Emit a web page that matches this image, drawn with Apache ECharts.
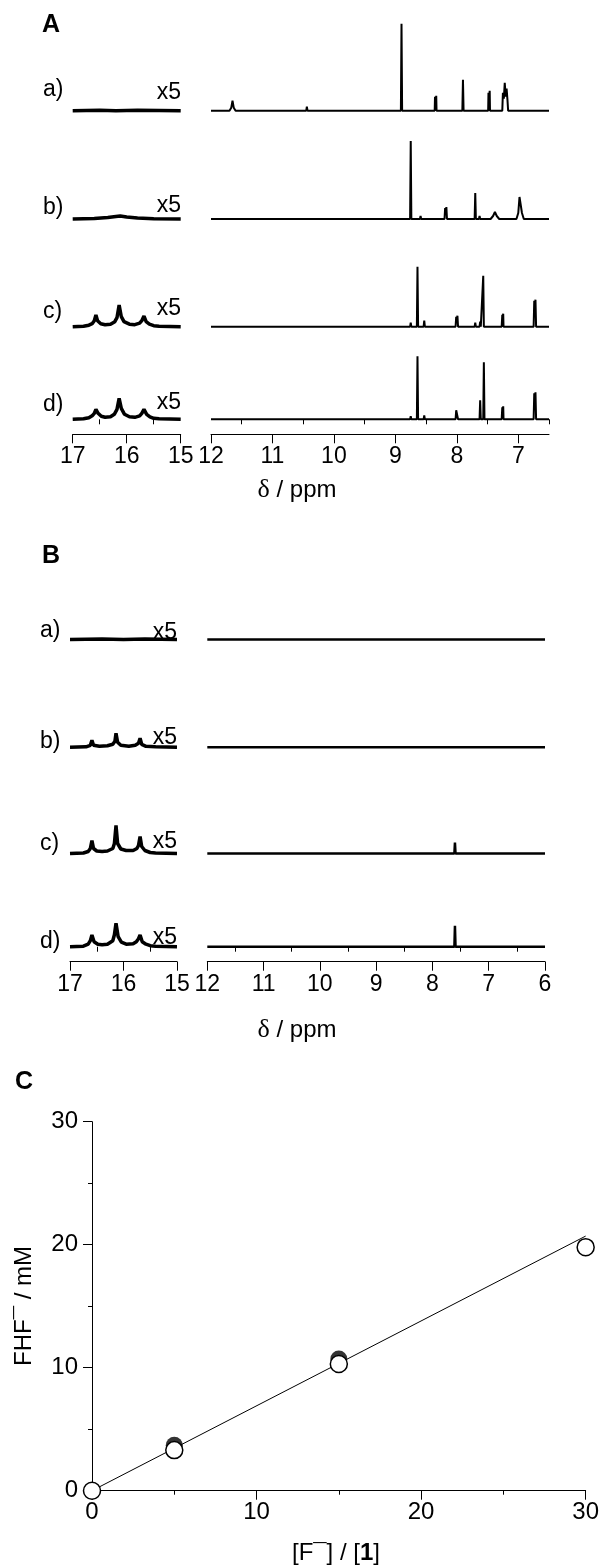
<!DOCTYPE html>
<html>
<head>
<meta charset="utf-8">
<script src="https://cdn.jsdelivr.net/npm/echarts@6/dist/echarts.min.js"></script>
<style>
  html, body { margin: 0; padding: 0; background: #fff; }
  #chart { width: 602px; height: 1566px; }
</style>
</head>
<body>
<div id="chart"></div>
<script>
var FONT = '"Liberation Sans", Arial, sans-serif';

// ---- data: [ppm, intensity] ----
// panel A, 12 - 6.5 ppm
var specA_a = [[12,0],[11.70,0],[11.67,3],[11.65,10],[11.63,3],[11.60,0],[10.45,0],[10.44,4],[10.43,0],
  [8.91,0],[8.90,87],[8.89,0],[8.36,0],[8.355,14],[8.345,6],[8.335,15],[8.33,0],[7.91,0],[7.90,31],[7.89,0],
  [7.49,0],[7.485,18],[7.475,10],[7.465,20],[7.46,0],[7.26,0],[7.25,18],[7.235,12],[7.22,28],[7.205,14],
  [7.19,22],[7.175,10],[7.165,0],[6.5,0]];
var specA_b = [[12,0],[8.76,0],[8.75,78],[8.74,0],[8.60,0],[8.59,3],[8.58,0],[8.20,0],[8.19,11],[8.18,7],
  [8.17,12],[8.16,0],[7.95,0],[7.94,2],[7.93,0],[7.82,0],[7.81,1.5],[7.80,0],[7.71,0],[7.70,26],[7.69,0],
  [7.64,0],[7.63,3],[7.62,0],[7.45,0],[7.41,3],[7.38,7],[7.35,3],[7.31,0],[7.03,0],[7.00,6],[6.98,22],
  [6.97,24],[6.955,22],[6.94,6],[6.91,0],[6.5,0]];
var specA_c = [[12,0],[8.76,0],[8.75,4],[8.74,0],[8.65,0],[8.64,60],[8.63,0],[8.54,0],[8.53,6],[8.52,0],
  [8.20,0],[8.19,2],[8.18,0],[8.02,0],[8.01,10],[8.00,7],[7.99,11],[7.98,0],[7.71,0],[7.70,4],[7.69,0],
  [7.63,0],[7.62,5],[7.61,0],[7.58,0],[7.57,51],[7.56,0],[7.27,0],[7.26,12],[7.255,9],[7.245,13],[7.24,0],
  [6.75,0],[6.74,26],[6.73,20],[6.72,27],[6.71,0],[6.5,0]];
var specA_d = [[12,0],[8.76,0],[8.75,3],[8.74,0],[8.65,0],[8.64,63],[8.63,0],[8.54,0],[8.53,4],[8.52,0],
  [8.20,0],[8.19,1],[8.18,0],[8.02,0],[8.01,9],[8.00,7],[7.99,10],[7.98,0],[7.71,0],[7.70,2],[7.69,0],
  [7.63,0],[7.62,19],[7.61,0],[7.57,0],[7.56,57],[7.55,0],[7.27,0],[7.26,12],[7.255,9],[7.245,13],[7.24,0],
  [6.75,0],[6.74,26],[6.73,20],[6.72,27],[6.71,0],[6.5,0]];

// panel A insets, 17 - 15 ppm (x5)
var insA_a = [[17,0],[16.5,0.5],[16.2,0],[15.8,0.5],[15,0]];
var insA_b = [[17,0],[16.6,0.5],[16.35,1.5],[16.2,2.5],[16.12,3],[16.0,2],[15.8,1],[15.5,0.3],[15,0]];
var insA_c = [[17,0],[16.8,0.5],[16.7,1.5],[16.64,3],[16.6,6],[16.57,11.7],[16.54,6],[16.48,3],[16.4,2],
  [16.3,2.5],[16.22,5],[16.18,9],[16.14,21.7],[16.10,10],[16.05,5],[15.95,2.5],[15.85,2],[15.76,3.5],
  [15.72,6],[15.68,10.7],[15.64,5],[15.58,2.5],[15.5,1],[15.4,0.5],[15,0]];
var insA_d = [[17,0],[16.8,0.5],[16.7,1.5],[16.64,3.5],[16.6,6],[16.57,10],[16.53,6],[16.47,3],[16.4,2],
  [16.3,2.5],[16.23,5],[16.18,10],[16.14,21],[16.10,11],[16.04,5],[15.95,2.5],[15.85,2],[15.76,3.5],
  [15.72,6],[15.68,10],[15.63,5],[15.57,2.5],[15.5,1],[15.4,0.5],[15,0]];

// panel B, 12 - 6 ppm
var specB_a = [[12,0],[10.43,0],[10.42,-2],[10.41,0],[6,0]];
var specB_b = [[12,0],[7.61,0],[7.60,2],[7.59,0],[6,0]];
var specB_c = [[12,0],[7.61,0],[7.60,11],[7.59,0],[6,0]];
var specB_d = [[12,0],[7.61,0],[7.60,21],[7.59,0],[6,0]];

// panel B insets, 17 - 15 ppm (x5)
var insB_a = [[17,0],[16.4,0.5],[16.0,0],[15.6,0.5],[15,0]];
var insB_b = [[17,0],[16.7,0.5],[16.62,2],[16.59,7],[16.56,2],[16.45,1],[16.3,1.5],[16.2,3],[16.16,6],
  [16.14,14],[16.11,5],[16.05,2],[15.9,1],[15.78,2],[15.72,4],[15.69,9],[15.66,3],[15.58,1],[15.4,0.5],[15,0]];
var insB_c = [[17,0],[16.75,0.5],[16.66,2],[16.62,5],[16.59,13],[16.56,5],[16.5,2.5],[16.4,2],[16.3,2.5],
  [16.2,5],[16.17,10],[16.14,28],[16.11,10],[16.05,4.5],[15.95,3],[15.82,3],[15.75,5],[15.72,8],[15.69,17],
  [15.66,7],[15.6,3],[15.5,1],[15.4,0.5],[15,0]];
var insB_d = [[17,0],[16.75,0.5],[16.66,2.5],[16.62,6],[16.59,11.7],[16.55,5],[16.48,2.5],[16.4,2],[16.3,2.5],
  [16.2,6],[16.17,12],[16.14,23.4],[16.1,10],[16.04,4.5],[15.95,2.5],[15.82,3],[15.76,5],[15.72,8],
  [15.69,11.7],[15.65,5],[15.58,2.5],[15.5,1],[15.4,0.5],[15,0]];

// tick values
var ticksInset = { major: [15, 16, 17], minor: [15.5, 16.5] };
var ticksA = { major: [7, 8, 9, 10, 11, 12], minor: [6.5, 7.5, 8.5, 9.5, 10.5, 11.5] };
var ticksB = { major: [6, 7, 8, 9, 10, 11, 12], minor: [6.5, 7.5, 8.5, 9.5, 10.5, 11.5] };
var rowLabels = ['a)', 'b)', 'c)', 'd)'];

// panel C
var ratioF = [0, 5, 15, 30];
var fhfOpen = [0, 3.3, 10.3, 19.8];
var ratioFilled = [5, 15];
var fhfFilled = [3.7, 10.7];
var fitX = [0, 30];
var fitY = [0, 20.7];

var grids = [], xAxes = [], yAxes = [], series = [], graphics = [];

function ppmAxis(gi, range, ticks, visible) {
    var idx = xAxes.length;
    xAxes.push({
        type: 'value', gridIndex: gi, min: range[0], max: range[1], inverse: true,
        show: visible, position: 'bottom', offset: 15,
        axisLine: { show: true, onZero: false, lineStyle: { color: '#000', width: 1 } },
        axisTick: { show: true, inside: false, length: 9, customValues: ticks.major,
            lineStyle: { color: '#000', width: 1 } },
        axisLabel: { show: true, customValues: ticks.major, margin: 11, color: '#000',
            fontSize: 23, fontFamily: FONT },
        splitLine: { show: false }
    });
    if (visible) {
        xAxes.push({
            type: 'value', gridIndex: gi, min: range[0], max: range[1], inverse: true,
            position: 'bottom', offset: 15,
            axisLine: { show: false },
            axisTick: { show: true, inside: false, length: 5, customValues: ticks.minor,
                lineStyle: { color: '#000', width: 1 } },
            axisLabel: { show: false },
            splitLine: { show: false }
        });
    }
    return idx;
}

function addSpectrum(left, base, width, range, ticks, data, lw, visible) {
    var gi = grids.length;
    grids.push({ left: left, top: base - 90, width: width, height: 90 });
    var xi = ppmAxis(gi, range, ticks, visible);
    yAxes.push({ type: 'value', gridIndex: gi, min: 0, max: 90, show: false });
    series.push({
        type: 'line', xAxisIndex: xi, yAxisIndex: gi, data: data, symbol: 'none',
        clip: false, silent: true, lineStyle: { color: '#000', width: lw }
    });
}

function text(x, y, str, extra) {
    var style = { text: str, fill: '#000', fontSize: 23, fontFamily: FONT,
        align: 'left', verticalAlign: 'middle' };
    for (var k in extra) style[k] = extra[k];
    graphics.push({ type: 'text', x: x, y: y, silent: true, style: style });
}

// panel A
var baseA = [110.7, 219, 326.7, 419.3];
var mainA = [specA_a, specA_b, specA_c, specA_d];
var insetA = [insA_a, insA_b, insA_c, insA_d];
var x5A = [92.5, 206, 309, 403];
var labA = [90, 208, 311.7, 405];
for (var i = 0; i < 4; i++) {
    addSpectrum(72.7, baseA[i], 108, [15, 17], ticksInset, insetA[i], 3.5, i === 3);
    addSpectrum(211, baseA[i], 338, [6.5, 12], ticksA, mainA[i], 2, i === 3);
    text(43, labA[i], rowLabels[i]);
    text(181, x5A[i], 'x5', { align: 'right' });
}
text(51, 25, 'A', { fontWeight: 'bold', fontSize: 25, align: 'center' });
text(297, 490, '{d|\u03b4} / ppm', { align: 'center', fontSize: 24,
    rich: { d: { fontFamily: '"Liberation Serif", serif', fontSize: 26 } } });

// panel B
var baseB = [639.5, 747.3, 853.5, 946.7];
var mainB = [specB_a, specB_b, specB_c, specB_d];
var insetB = [insB_a, insB_b, insB_c, insB_d];
var x5B = [632.5, 738, 841.7, 938];
var labB = [631, 742, 844, 942];
for (var j = 0; j < 4; j++) {
    addSpectrum(70, baseB[j], 107, [15, 17], ticksInset, insetB[j], 3.5, j === 3);
    addSpectrum(207.3, baseB[j], 337.7, [6, 12], ticksB, mainB[j], 2.5, j === 3);
    text(40, labB[j], rowLabels[j]);
    text(177, x5B[j], 'x5', { align: 'right' });
}
text(51, 556, 'B', { fontWeight: 'bold', fontSize: 25, align: 'center' });
text(297, 1030, '{d|\u03b4} / ppm', { align: 'center', fontSize: 24,
    rich: { d: { fontFamily: '"Liberation Serif", serif', fontSize: 26 } } });

// panel C
var gC = grids.length;
grids.push({ left: 92, top: 1121.7, width: 494, height: 369 });
var xC = xAxes.length;
xAxes.push({
    type: 'value', gridIndex: gC, min: 0, max: 30, interval: 10,
    axisLine: { onZero: false, lineStyle: { color: '#000', width: 1 } },
    axisTick: { length: 9, lineStyle: { color: '#000' } },
    minorTick: { show: true, splitNumber: 2, length: 4, lineStyle: { color: '#000' } },
    axisLabel: { margin: 10, color: '#000', fontSize: 24, fontFamily: FONT },
    splitLine: { show: false }, minorSplitLine: { show: false }
});
var yC = yAxes.length;
yAxes.push({
    type: 'value', gridIndex: gC, min: 0, max: 30, interval: 10,
    axisLine: { show: true, onZero: false, lineStyle: { color: '#000', width: 1 } },
    axisTick: { show: true, length: 9, lineStyle: { color: '#000' } },
    minorTick: { show: true, splitNumber: 2, length: 4, lineStyle: { color: '#000' } },
    axisLabel: { margin: 14, color: '#000', fontSize: 24, fontFamily: FONT },
    splitLine: { show: false }, minorSplitLine: { show: false }
});
series.push({
    type: 'line', xAxisIndex: xC, yAxisIndex: yC, symbol: 'none', silent: true,
    data: fitX.map(function (x, k) { return [x, fitY[k]]; }),
    lineStyle: { color: '#000', width: 1 }, z: 2
});
series.push({
    type: 'scatter', xAxisIndex: xC, yAxisIndex: yC, symbolSize: 17, silent: true,
    data: ratioFilled.map(function (x, k) { return [x, fhfFilled[k]]; }),
    itemStyle: { color: '#000' }, z: 3
});
series.push({
    type: 'scatter', xAxisIndex: xC, yAxisIndex: yC, symbolSize: 17, silent: true,
    data: ratioF.map(function (x, k) { return [x, fhfOpen[k]]; }),
    itemStyle: { color: '#fff', borderColor: '#000', borderWidth: 1.5, opacity: 1 }, z: 4
});
text(24, 1082, 'C', { fontWeight: 'bold', fontSize: 25, align: 'center' });
text(336, 1553, '[F\u00af] / [{b|1}]', { align: 'center', fontSize: 24,
    rich: { b: { fontWeight: 'bold', fontSize: 24, fontFamily: FONT } } });
graphics.push({
    type: 'text', x: 24, y: 1306, rotation: Math.PI / 2, silent: true,
    style: { text: 'FHF\u00af / mM', fill: '#000', fontSize: 24, fontFamily: FONT,
        align: 'center', verticalAlign: 'middle' }
});

var myChart = echarts.init(document.getElementById('chart'));
var option = {
    animation: false,
    backgroundColor: '#fff',
    grid: grids,
    xAxis: xAxes,
    yAxis: yAxes,
    series: series,
    graphic: graphics
};
myChart.setOption(option);
</script>
</body>
</html>
